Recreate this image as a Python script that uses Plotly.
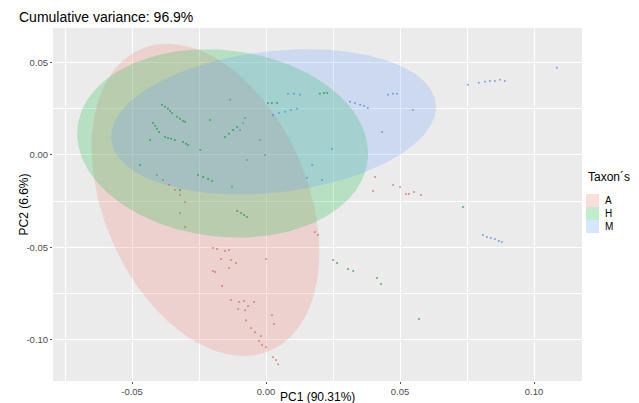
import numpy as np
import plotly.graph_objects as go

# ---------------- data ----------------
groups = ["A", "H", "M"]
group_colors = {"A": "#F8766D", "H": "#00BA38", "M": "#619CFF"}
point_colors = {"A": "#C8605A", "H": "#1E8F45", "M": "#4F82D6"}

# PCA scores (PC1, PC2) per taxon
A_pc1 = [-0.0407, -0.0384, -0.0362, -0.0340, -0.0321, -0.0302,
         -0.0198, -0.0183, -0.0153, -0.0138, -0.0168, -0.0131, -0.0112, -0.0198, -0.0138, -0.0190,
         -0.0164, -0.0131, -0.0101, -0.0082, -0.0045, -0.0104, -0.0078, -0.0067, -0.0075, -0.0056,
         -0.0041, -0.0019, -0.0026, -0.0015, 0.0000, 0.0022, 0.0030, 0.0000, 0.0026, 0.0037, 0.0045,
         0.0474, 0.0500, 0.0522, 0.0533, 0.0552, 0.0578, 0.0399, 0.0407, 0.0183, 0.0194,
         -0.0321, -0.0302]
A_pc2 = [-0.0108, -0.0135, -0.0162, -0.0189, -0.0216, -0.0254,
         -0.0503, -0.0509, -0.0519, -0.0514, -0.0563, -0.0568, -0.0584, -0.0628, -0.0611, -0.0633,
         -0.0709, -0.0784, -0.0795, -0.0790, -0.0795, -0.0833, -0.0839, -0.0817, -0.0893, -0.0936,
         -0.0958, -0.0979, -0.1006, -0.1028, -0.1039, -0.0866, -0.0914, -0.0563, -0.1093, -0.1109, -0.1131,
         -0.0162, -0.0173, -0.0211, -0.0211, -0.0200, -0.0216, -0.0195, -0.0119, -0.0417, -0.0433,
         -0.0314, -0.0390]

H_pc1 = [-0.0388, -0.0377, -0.0366, -0.0358, -0.0351,
         -0.0332, -0.0321, -0.0310, -0.0302,
         -0.0422, -0.0414, -0.0407, -0.0399,
         -0.0377, -0.0366, -0.0354, -0.0340,
         -0.0310, -0.0299, -0.0291,
         -0.0153, -0.0138, -0.0123, -0.0108,
         0.0007, 0.0022, 0.0041,
         0.0201, 0.0216, 0.0228,
         -0.0254, -0.0235, -0.0216, -0.0201,
         -0.0108, -0.0093, -0.0082, -0.0071,
         -0.0433, -0.0470, -0.0321, -0.0246, -0.0209,
         0.0250, 0.0265, 0.0306, 0.0325, 0.0414, 0.0429, 0.0571, 0.0735]
H_pc2 = [0.0271, 0.0260, 0.0249, 0.0238, 0.0227,
         0.0206, 0.0195, 0.0184, 0.0179,
         0.0173, 0.0157, 0.0141, 0.0124,
         0.0097, 0.0092, 0.0087, 0.0081,
         0.0070, 0.0060, 0.0054,
         0.0097, 0.0114, 0.0135, 0.0151,
         0.0281, 0.0281, 0.0281,
         0.0330, 0.0335, 0.0335,
         -0.0108, -0.0119, -0.0130, -0.0141,
         -0.0303, -0.0314, -0.0325, -0.0335,
         0.0081, -0.0054, -0.0189, 0.0027, 0.0189,
         -0.0568, -0.0584, -0.0617, -0.0628, -0.0665, -0.0698, -0.0887, -0.0281]

M_pc1 = [0.0026, 0.0048, 0.0071, 0.0093, 0.0116,
         0.0082, 0.0104, 0.0127,
         0.0313, 0.0332, 0.0351, 0.0366, 0.0380,
         0.0455, 0.0474, 0.0489,
         0.0809, 0.0824, 0.0839, 0.0854, 0.0869, 0.0880,
         -0.0078, -0.0086, -0.0097, -0.0071, -0.0127, -0.0004, -0.0134, -0.0022,
         0.0548, 0.0433, 0.0246, 0.0172, 0.0209, 0.0153,
         0.0753, 0.0794, 0.0817, 0.0835, 0.0854, 0.0873, 0.0891, 0.1085]
M_pc2 = [0.0216, 0.0227, 0.0233, 0.0243, 0.0249,
         0.0330, 0.0330, 0.0325,
         0.0287, 0.0281, 0.0271, 0.0265, 0.0254,
         0.0325, 0.0330, 0.0330,
         -0.0433, -0.0444, -0.0449, -0.0454, -0.0465, -0.0471,
         0.0200, 0.0173, 0.0135, -0.0027, -0.0173, 0.0000, 0.0298, 0.0081,
         0.0243, 0.0124, 0.0032, -0.0054, -0.0135, -0.0124,
         0.0379, 0.0390, 0.0395, 0.0400, 0.0400, 0.0406, 0.0400, 0.0471]

# 95% ellipse shapes: center and lower-triangular factor [a11, a21, a22]
ellipse_center = {"A": (-0.0226, -0.0243), "H": (-0.0162, 0.0062), "M": (0.0028, 0.0179)}
ellipse_factor = {"A": (0.0425, -0.0284, 0.0795),
                  "H": (0.0543, -0.0054, 0.0506),
                  "M": (0.0606, 0.0081, 0.0384)}

x_ticks = [-0.05, 0.0, 0.05, 0.10]
x_ticktext = ["-0.05", "0.00", "0.05", "0.10"]
y_ticks = [-0.10, -0.05, 0.0, 0.05]
y_ticktext = ["-0.10", "-0.05", "0.00", "0.05"]

points = {"A": (A_pc1, A_pc2), "H": (H_pc1, H_pc2), "M": (M_pc1, M_pc2)}


def rgba(hexc, a):
    h = hexc.lstrip("#")
    r, g, b = int(h[0:2], 16), int(h[2:4], 16), int(h[4:6], 16)
    return f"rgba({r},{g},{b},{a})"


fig = go.Figure()
t = np.linspace(0, 2 * np.pi, 241)
for g in groups:
    cx, cy = ellipse_center[g]
    a11, a21, a22 = ellipse_factor[g]
    ex = cx + a11 * np.cos(t)
    ey = cy + a21 * np.cos(t) + a22 * np.sin(t)
    fig.add_trace(go.Scatter(x=ex, y=ey, mode="lines", fill="toself",
                             fillcolor=rgba(group_colors[g], 0.22),
                             line=dict(width=0, color=rgba(group_colors[g], 0)),
                             name=g, hoverinfo="skip", showlegend=False))

for g in groups:
    px, py = points[g]
    fig.add_trace(go.Scatter(x=px, y=py, mode="markers",
                             marker=dict(size=2, color=point_colors[g], opacity=0.7),
                             name=g, showlegend=False))

# Page layout (the page body adds an 8 px offset to the figure)
OFF = 8
W, H = 639 - OFF, 403 - OFF
plot_l, plot_r, plot_t, plot_b = 53 - OFF, 582 - OFF, 28 - OFF, 381 - OFF
pw, ph = plot_r - plot_l, plot_b - plot_t


def px_to_paper_x(p):
    return (p - OFF - plot_l) / pw


def py_to_paper_y(p):
    return (plot_b - (p - OFF)) / ph


annotations = [dict(text="Taxon´s", x=px_to_paper_x(586), y=py_to_paper_y(177),
                    xref="paper", yref="paper", xanchor="left", yanchor="middle",
                    showarrow=False, font=dict(size=12, color="#000000")),
               dict(text="PC1 (90.31%)", x=0.5, y=py_to_paper_y(397),
                    xref="paper", yref="paper", xanchor="center", yanchor="middle",
                    showarrow=False, font=dict(size=12, color="#000000")),
               dict(text="PC2 (6.6%)", x=px_to_paper_x(23), y=0.5, textangle=-90,
                    xref="paper", yref="paper", xanchor="center", yanchor="middle",
                    showarrow=False, font=dict(size=12, color="#000000"))]
shapes = []
key_top = 194
key_h = 13
for i, g in enumerate(groups):
    y0 = key_top + i * key_h
    shapes.append(dict(type="rect", xref="paper", yref="paper",
                       x0=px_to_paper_x(586), x1=px_to_paper_x(599),
                       y0=py_to_paper_y(y0 + key_h), y1=py_to_paper_y(y0),
                       fillcolor=rgba(group_colors[g], 0.25), line=dict(width=0), layer="above"))
    annotations.append(dict(text=g, x=px_to_paper_x(603), y=py_to_paper_y(y0 + key_h / 2),
                            xref="paper", yref="paper", xanchor="left", yanchor="middle",
                            showarrow=False, font=dict(size=10, color="#000000")))

grid_minor_x = [-0.075, -0.025, 0.025, 0.075]
grid_minor_y = [-0.075, -0.025, 0.025]

fig.update_layout(
    width=W, height=H,
    margin=dict(l=plot_l, r=W - plot_r, t=plot_t, b=H - plot_b, autoexpand=False),
    paper_bgcolor="white",
    plot_bgcolor="#EBEBEB",
    showlegend=False,
    font=dict(family="Liberation Sans, Arial, sans-serif", color="#000000"),
    title=dict(text="Cumulative variance: 96.9%", x=(19 - OFF) / W, xanchor="left",
               y=1 - (17 - OFF) / H, yanchor="middle",
               font=dict(size=14, color="#000000")),
    annotations=annotations,
    shapes=shapes,
    xaxis=dict(range=[-0.0795, 0.1179], tickvals=x_ticks, ticktext=x_ticktext,
               showgrid=True, gridcolor="white", gridwidth=1.1, zeroline=False,
               ticks="outside", ticklen=2, tickcolor="#555555", automargin=False,
               tickfont=dict(size=9.5, color="#4D4D4D"),
               minor=dict(tickvals=grid_minor_x, showgrid=True, gridcolor="white", gridwidth=0.5)),
    yaxis=dict(range=[-0.1222, 0.0686], tickvals=y_ticks, ticktext=y_ticktext,
               showgrid=True, gridcolor="white", gridwidth=1.1, zeroline=False,
               ticks="outside", ticklen=2, tickcolor="#555555", automargin=False,
               tickfont=dict(size=9.5, color="#4D4D4D"),
               minor=dict(tickvals=grid_minor_y, showgrid=True, gridcolor="white", gridwidth=0.5)),
)

fig.write_html("out.html")
